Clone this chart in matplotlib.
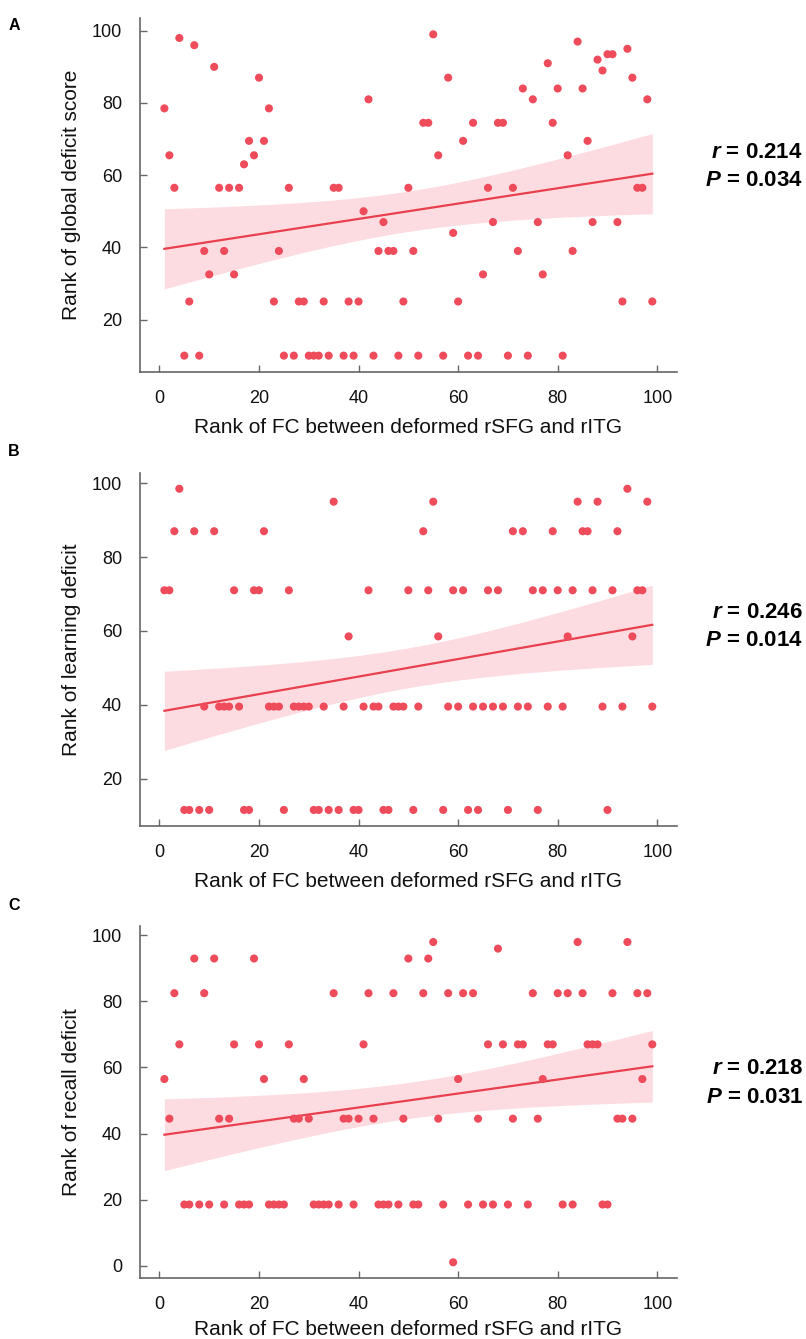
import numpy as np
import matplotlib
matplotlib.use("Agg")
import matplotlib.pyplot as plt

plt.rcParams['font.family'] = ['Liberation Sans', 'DejaVu Sans']
plt.rcParams['mathtext.fontset'] = 'custom'
plt.rcParams['mathtext.it'] = 'Liberation Sans:italic:bold'
plt.rcParams['mathtext.rm'] = 'Liberation Sans:bold'
plt.rcParams['mathtext.bf'] = 'Liberation Sans:bold'

# ---------------- data ----------------
fc_rank = [1, 2, 3, 4, 5, 6, 7, 8, 9, 10, 11, 12, 13, 14, 15, 16, 17, 18, 19, 20,
           21, 22, 23, 24, 25, 26, 27, 28, 29, 30, 31, 32, 33, 34, 35, 36, 37, 38, 39, 40,
           41, 42, 43, 44, 45, 46, 47, 48, 49, 50, 51, 52, 53, 54, 55, 56, 57, 58, 59, 60,
           61, 62, 63, 64, 65, 66, 67, 68, 69, 70, 71, 72, 73, 74, 75, 76, 77, 78, 79, 80,
           81, 82, 83, 84, 85, 86, 87, 88, 89, 90, 91, 92, 93, 94, 95, 96, 97, 98, 99]

global_rank = [78.5, 65.5, 56.5, 98, 10, 25, 96, 10, 39, 32.5,
               90, 56.5, 39, 56.5, 32.5, 56.5, 63, 69.5, 65.5, 87,
               69.5, 78.5, 25, 39, 10, 56.5, 10, 25, 25, 10,
               10, 10, 25, 10, 56.5, 56.5, 10, 25, 10, 25,
               50, 81, 10, 39, 47, 39, 39, 10, 25, 56.5,
               39, 10, 74.5, 74.5, 99, 65.5, 10, 87, 44, 25,
               69.5, 10, 74.5, 10, 32.5, 56.5, 47, 74.5, 74.5, 10,
               56.5, 39, 84, 10, 81, 47, 32.5, 91, 74.5, 84,
               10, 65.5, 39, 97, 84, 69.5, 47, 92, 89, 93.5,
               93.5, 47, 25, 95, 87, 56.5, 56.5, 81, 25]

learning_rank = [71, 71, 87, 98.5, 11.5, 11.5, 87, 11.5, 39.5, 11.5,
                 87, 39.5, 39.5, 39.5, 71, 39.5, 11.5, 11.5, 71, 71,
                 87, 39.5, 39.5, 39.5, 11.5, 71, 39.5, 39.5, 39.5, 39.5,
                 11.5, 11.5, 39.5, 11.5, 95, 11.5, 39.5, 58.5, 11.5, 11.5,
                 39.5, 71, 39.5, 39.5, 11.5, 11.5, 39.5, 39.5, 39.5, 71,
                 11.5, 39.5, 87, 71, 95, 58.5, 11.5, 39.5, 71, 39.5,
                 71, 11.5, 39.5, 11.5, 39.5, 71, 39.5, 71, 39.5, 11.5,
                 87, 39.5, 87, 39.5, 71, 11.5, 71, 39.5, 87, 71,
                 39.5, 58.5, 71, 95, 87, 87, 71, 95, 39.5, 11.5,
                 71, 87, 39.5, 98.5, 58.5, 71, 71, 95, 39.5]

recall_rank = [56.5, 44.5, 82.5, 67, 18.5, 18.5, 93, 18.5, 82.5, 18.5,
               93, 44.5, 18.5, 44.5, 67, 18.5, 18.5, 18.5, 93, 67,
               56.5, 18.5, 18.5, 18.5, 18.5, 67, 44.5, 44.5, 56.5, 44.5,
               18.5, 18.5, 18.5, 18.5, 82.5, 18.5, 44.5, 44.5, 18.5, 44.5,
               67, 82.5, 44.5, 18.5, 18.5, 18.5, 82.5, 18.5, 44.5, 93,
               18.5, 18.5, 82.5, 93, 98, 44.5, 18.5, 82.5, 1, 56.5,
               82.5, 18.5, 82.5, 44.5, 18.5, 67, 18.5, 96, 67, 18.5,
               44.5, 67, 67, 18.5, 82.5, 44.5, 56.5, 67, 67, 82.5,
               18.5, 82.5, 18.5, 98, 82.5, 67, 67, 67, 18.5, 18.5,
               82.5, 44.5, 44.5, 98, 44.5, 82.5, 56.5, 82.5, 67]

panel_letters = ["A", "B", "C"]
y_labels = ["Rank of global deficit score", "Rank of learning deficit", "Rank of recall deficit"]
x_label = "Rank of FC between deformed rSFG and rITG"
r_values = ["0.214", "0.246", "0.218"]
p_values = ["0.034", "0.014", "0.031"]
x_ticks = [0, 20, 40, 60, 80, 100]
y_ticks = [[20, 40, 60, 80, 100], [20, 40, 60, 80, 100], [0, 20, 40, 60, 80, 100]]

# ---------------- layout ----------------
W, H = 806, 1339
fig = plt.figure(figsize=(W / 100, H / 100), dpi=100)

ax_left = 140 / W
ax_w = 536.7 / W
tops = [18.3, 472.7, 926.0]
bottoms = [371.7, 826.0, 1278.3]
letter_y = [25, 452, 906]
stat_y = [(153, 180), (612.7, 640), (1069, 1097.7)]
xlabel_pad = [8, 8, 5]

pt_color = "#EE4B5B"
line_color = "#E8404F"
band_color = "#FCDCE0"
spine_color = "#666666"
T_CRIT = 1.9847  # t(0.975, df=97)

ys_all = [global_rank, learning_rank, recall_rank]
x = np.asarray(fc_rank, dtype=float)

for i in range(3):
    y = np.asarray(ys_all[i], dtype=float)
    ax = fig.add_axes([ax_left, 1 - bottoms[i] / H, ax_w, (bottoms[i] - tops[i]) / H])

    # OLS fit and 95% confidence band
    slope, intercept = np.polyfit(x, y, 1)
    n = len(x)
    resid = y - (slope * x + intercept)
    s = np.sqrt(np.sum(resid ** 2) / (n - 2))
    xbar = x.mean()
    sxx = np.sum((x - xbar) ** 2)
    xg = np.linspace(x.min(), x.max(), 200)
    yg = slope * xg + intercept
    se = s * np.sqrt(1.0 / n + (xg - xbar) ** 2 / sxx)

    ax.fill_between(xg, yg - T_CRIT * se, yg + T_CRIT * se, color=band_color,
                    linewidth=0, zorder=1)
    ax.plot(xg, yg, color=line_color, lw=1.6, zorder=2)
    ax.scatter(x, y, s=34, color=pt_color, edgecolors='none', zorder=3)

    ax.set_xlim(x.min() - 0.05 * (x.max() - x.min()), x.max() + 0.05 * (x.max() - x.min()))
    ax.set_ylim(y.min() - 0.05 * (y.max() - y.min()), y.max() + 0.05 * (y.max() - y.min()))
    ax.set_xticks(x_ticks)
    ax.set_yticks(y_ticks[i])

    for sp in ["top", "right"]:
        ax.spines[sp].set_visible(False)
    for sp in ["left", "bottom"]:
        ax.spines[sp].set_color(spine_color)
        ax.spines[sp].set_linewidth(1.2)
    ax.tick_params(direction='in', length=5, width=1, color=spine_color,
                   labelsize=13, labelcolor="#111111", pad=13)

    ax.set_xlabel(x_label, fontsize=15, labelpad=xlabel_pad[i], color="#111111")
    ax.set_ylabel(y_labels[i], fontsize=15, labelpad=8, color="#111111")

    fig.text(14 / W, 1 - letter_y[i] / H, panel_letters[i], fontsize=11.5,
             fontweight='bold', ha='center', va='center')
    fig.text(803 / W, 1 - stat_y[i][0] / H, r"$\mathit{r}$ = " + r_values[i],
             fontsize=16, fontweight='bold', ha='right', va='center')
    fig.text(803 / W, 1 - stat_y[i][1] / H, r"$\mathit{P}$ = " + p_values[i],
             fontsize=16, fontweight='bold', ha='right', va='center')

fig.savefig("out.png", dpi=100)
